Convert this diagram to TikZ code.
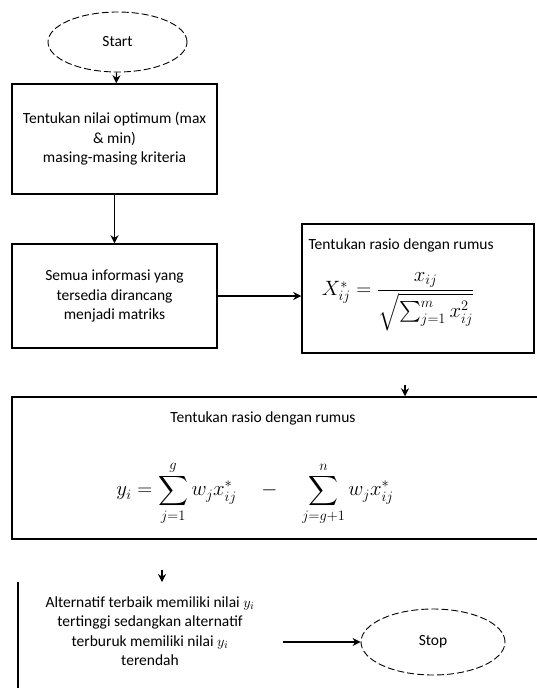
\documentclass[tikz,border=0pt]{standalone}
\usepackage{amsmath}
\usepackage{fontspec}
\setmainfont{Carlito}
\usetikzlibrary{arrows.meta,positioning,shapes.geometric}

\begin{document}
\begin{tikzpicture}[x=1pt,y=-1pt,>={Stealth[length=8pt,width=8pt]},
  every node/.style={font=\fontsize{15.5}{19.5}\selectfont},
  term/.style={ellipse,draw,dash pattern=on 7pt off 3pt,line width=0.9pt,inner sep=0pt},
  stepbox/.style={draw,line width=1.5pt,align=center,inner sep=0pt},
  flow/.style={->,line width=1.1pt}]
  \useasboundingbox (0,0) rectangle (536,688);

  \node[term,minimum width=139pt,minimum height=60pt] (start) at (117.5,42) {Start};
  \node[stepbox,minimum width=205pt,minimum height=110pt] (b1) at (114.5,139)
    {Tentukan nilai optimum (max\\ \& min)\\ masing-masing kriteria};
  \node[stepbox,minimum width=205pt,minimum height=104pt] (b2) at (114.5,296)
    {Semua informasi yang\\ tersedia dirancang\\ menjadi matriks};
  \node[stepbox,minimum width=232pt,minimum height=129pt] (r3) at (418,288.5) {};
  \node[anchor=west] (r3txt) at (305,245) {Tentukan rasio dengan rumus};
  \node[font=\fontsize{20}{24}\selectfont] (r3eq) at (398,302)
    {$X^{*}_{ij} = \dfrac{x_{ij}}{\sqrt{\sum_{j=1}^{m} x_{ij}^{2}}}$};
  \node[stepbox,minimum width=540pt,minimum height=142pt] (r4) at (282,468) {};
  \node (r4txt) at (263,418) {Tentukan rasio dengan rumus};
  \node[font=\fontsize{20}{24}\selectfont] (r4eq) at (255,493)
    {$\displaystyle y_i = \sum_{j=1}^{g} w_j x^{*}_{ij} \quad-\quad \sum_{j=g+1}^{n} w_j x^{*}_{ij}$};
  \node[align=center] (alt) at (150,631)
    {Alternatif terbaik memiliki nilai $y_i$\\ tertinggi sedangkan alternatif\\
     terburuk memiliki nilai $y_i$\\ terendah};
  \node[term,minimum width=144pt,minimum height=66pt] (stop) at (433,642) {Stop};

  \coordinate (t4) at (405,385);
  \coordinate (t5) at (162,570);
  \coordinate (h5) at (162,582);
  \coordinate (a5) at (283,642);

  \draw[line width=1.5pt] (18,582) -- (18,700);

  \draw[flow] (start) -- (b1);
  \draw[flow] (b1) -- (b2);
  \draw[flow] (b2.east) -- (b2.east -| r3.west);
  \draw[flow] (t4) -- (t4 |- r4.north);
  \draw[flow] (t5) -- (h5);
  \draw[flow] (a5) -- (stop.west);
\end{tikzpicture}
\end{document}
